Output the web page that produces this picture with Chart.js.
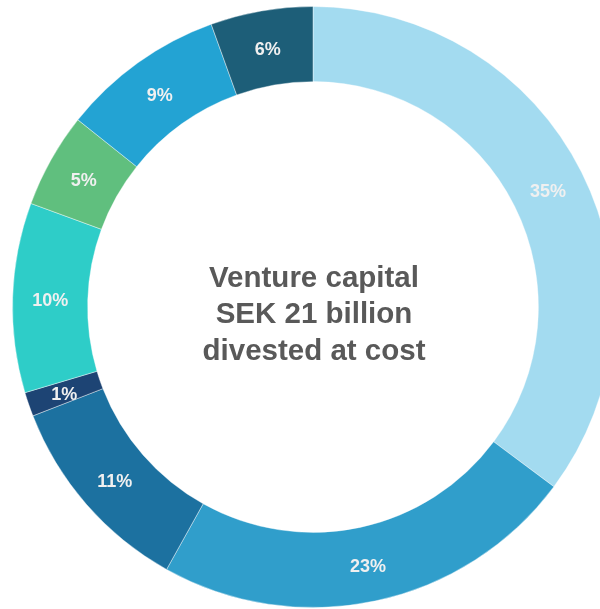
<!DOCTYPE html>
<html>
<head>
<meta charset="utf-8">
<script src="https://cdn.jsdelivr.net/npm/chart.js@4"></script>
<style>
  html, body { margin: 0; padding: 0; background: #fff; overflow: hidden; }
  #wrap { width: 600px; height: 609px; overflow: hidden; }
</style>
</head>
<body>
<div id="wrap"><canvas id="myChart" width="626" height="609"></canvas></div>
<script>
var categories = ["A", "B", "C", "D", "E", "F", "G", "H"];
var shares = [35.2, 22.9, 11.0, 1.3, 10.2, 5.1, 8.8, 5.5];
var shareLabels = ["35%", "23%", "11%", "1%", "10%", "5%", "9%", "6%"];
var sliceColors = [
    "#a3dbf0",
    "#309ecb",
    "#1c71a0",
    "#1d4474",
    "#2ecdc8",
    "#60bf7e",
    "#23a3d3",
    "#1d5e78"
];
var centerLines = ["Venture capital", "SEK 21 billion", "divested at cost"];

// percent labels in the middle of each ring segment
var sliceLabels = {
    id: "sliceLabels",
    afterDatasetsDraw: function (chart) {
        var ctx = chart.ctx;
        var meta = chart.getDatasetMeta(0);
        ctx.save();
        ctx.font = "bold 18px 'Liberation Sans', Arial, sans-serif";
        ctx.fillStyle = "#f0f0f0";
        ctx.textAlign = "center";
        ctx.textBaseline = "middle";
        meta.data.forEach(function (arc, i) {
            var p = arc.tooltipPosition();
            ctx.fillText(shareLabels[i], p.x, p.y + 2.5);
        });
        ctx.restore();
    }
};

// title text in the hole
var centerText = {
    id: "centerText",
    afterDraw: function (chart) {
        var ctx = chart.ctx;
        var arc = chart.getDatasetMeta(0).data[0];
        ctx.save();
        ctx.font = "bold 29.5px 'Liberation Sans', Arial, sans-serif";
        ctx.fillStyle = "#595959";
        ctx.textAlign = "center";
        ctx.textBaseline = "middle";
        var lh = 36.5;
        var y0 = arc.y + 8 - lh;
        centerLines.forEach(function (t, i) {
            ctx.fillText(t, arc.x + 1, y0 + i * lh);
        });
        ctx.restore();
    }
};

new Chart("myChart", {
    type: "doughnut",
    data: {
        labels: categories,
        datasets: [{
            data: shares,
            backgroundColor: sliceColors,
            borderColor: "rgba(255,255,255,0.4)",
            borderWidth: 1
        }]
    },
    options: {
        responsive: false,
        animation: false,
        cutout: "75%",
        layout: { padding: { top: 6, bottom: 1, left: 0, right: 0 } },
        plugins: {
            legend: { display: false },
            tooltip: { enabled: false }
        }
    },
    plugins: [sliceLabels, centerText]
});
</script>
</body>
</html>
